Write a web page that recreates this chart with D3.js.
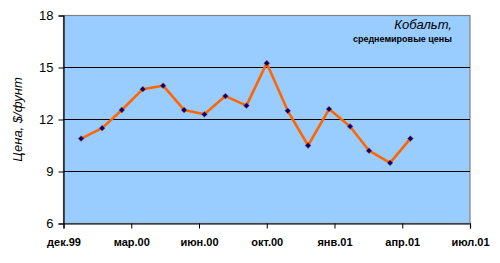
<!DOCTYPE html>
<html>
<head>
<meta charset="utf-8">
<script src="https://cdn.jsdelivr.net/npm/d3@7"></script>
<style>
  body { margin: 0; background: #ffffff; }
  svg { display: block; font-family: "Liberation Sans", Arial, sans-serif; }
  .ylab { font-size: 13px; fill: #000; }
  .xlab { font-size: 11px; font-weight: bold; fill: #000; }
</style>
</head>
<body>
<div id="chart"></div>
<script>
// monthly average cobalt prices, $/lb
var months = ["2000-01-01","2000-02-01","2000-03-01","2000-04-01","2000-05-01","2000-06-01",
              "2000-07-01","2000-08-01","2000-09-01","2000-10-01","2000-11-01","2000-12-01",
              "2001-01-01","2001-02-01","2001-03-01","2001-04-01","2001-05-01"];
var prices = [10.9, 11.5, 12.55, 13.75, 13.95, 12.55, 12.3, 13.35, 12.8, 15.25, 12.5,
              10.5, 12.6, 11.6, 10.2, 9.5, 10.9];
var yTicks = [6, 9, 12, 15, 18];
var xTickLabels = ["дек.99", "мар.00", "июн.00", "окт.00", "янв.01", "апр.01", "июл.01"];
var axisStart = "1999-12-06";   // excel date axis, major unit 100 days

var width = 500, height = 263;
var margin = {left: 63.5, right: 30, top: 15.5, bottom: 39.5};

var parse = d3.timeParse("%Y-%m-%d");
var data = months.map(function(m, i) { return {date: parse(m), value: prices[i]}; });
var t0 = parse(axisStart);
var tickDates = xTickLabels.map(function(l, i) { return d3.timeDay.offset(t0, i * 100); });

var svg = d3.select("#chart").append("svg")
    .attr("width", width)
    .attr("height", height);

var x = d3.scaleTime()
    .domain([tickDates[0], tickDates[tickDates.length - 1]])
    .range([margin.left, width - margin.right]);

var y = d3.scaleLinear()
    .domain([6, 18])
    .range([height - margin.bottom, margin.top]);

// plot area
svg.append("rect")
    .attr("x", x.range()[0])
    .attr("y", y(18))
    .attr("width", x.range()[1] - x.range()[0])
    .attr("height", y(6) - y(18))
    .attr("fill", "#99ccff")
    .attr("stroke", "#808080")
    .attr("stroke-width", 1.2);

// gridlines
svg.selectAll(".grid")
    .data(yTicks.filter(function(d) { return d > 6 && d < 18; }))
  .enter().append("line")
    .attr("x1", x.range()[0])
    .attr("x2", x.range()[1])
    .attr("y1", function(d) { return y(d); })
    .attr("y2", function(d) { return y(d); })
    .attr("stroke", "#000")
    .attr("stroke-width", 1);

// y axis
var yAxis = svg.append("g")
    .attr("transform", "translate(" + margin.left + ",0)")
    .call(d3.axisLeft(y).tickValues(yTicks).tickSize(5).tickPadding(5));
yAxis.select(".domain").attr("stroke", "#000").attr("stroke-width", 1.2);
yAxis.selectAll(".tick line").attr("stroke", "#000");
yAxis.selectAll("text").attr("class", "ylab").attr("font-size", null).attr("font-family", null);

// x axis
var xAxis = svg.append("g")
    .attr("transform", "translate(0," + y(6) + ")")
    .call(d3.axisBottom(x)
        .tickValues(tickDates)
        .tickSize(5)
        .tickPadding(10)
        .tickFormat(function(d, i) { return xTickLabels[i]; }));
xAxis.select(".domain").attr("stroke", "#000").attr("stroke-width", 1.2);
xAxis.selectAll(".tick line").attr("stroke", "#000");
xAxis.selectAll("text").attr("class", "xlab").attr("font-size", null).attr("font-family", null);

// series
var line = d3.line()
    .x(function(d) { return x(d.date); })
    .y(function(d) { return y(d.value); });

svg.append("path")
    .datum(data)
    .attr("d", line)
    .attr("fill", "none")
    .attr("stroke", "#ff6600")
    .attr("stroke-width", 2.6)
    .attr("stroke-linejoin", "round");

// markers: small rotated squares like excel diamonds
svg.selectAll(".pt")
    .data(data)
  .enter().append("path")
    .attr("transform", function(d) { return "translate(" + x(d.date) + "," + y(d.value) + ") rotate(45)"; })
    .attr("d", d3.symbol().type(d3.symbolSquare).size(17))
    .attr("fill", "#000080")
    .attr("stroke", "#cc5500")
    .attr("stroke-width", 0.5);

// axis title
svg.append("text")
    .attr("transform", "translate(22," + ((y(6) + y(18)) / 2) + ") rotate(-90)")
    .attr("text-anchor", "middle")
    .attr("font-size", 13)
    .attr("font-style", "italic")
    .text("Цена, $/фунт");

// chart title
svg.append("text")
    .attr("x", 452)
    .attr("y", 29)
    .attr("text-anchor", "end")
    .attr("font-size", 13)
    .attr("font-style", "italic")
    .text("Кобальт,");

svg.append("text")
    .attr("x", 452)
    .attr("y", 42)
    .attr("text-anchor", "end")
    .attr("font-size", 9)
    .attr("font-weight", "bold")
    .text("среднемировые цены");
</script>
</body>
</html>
